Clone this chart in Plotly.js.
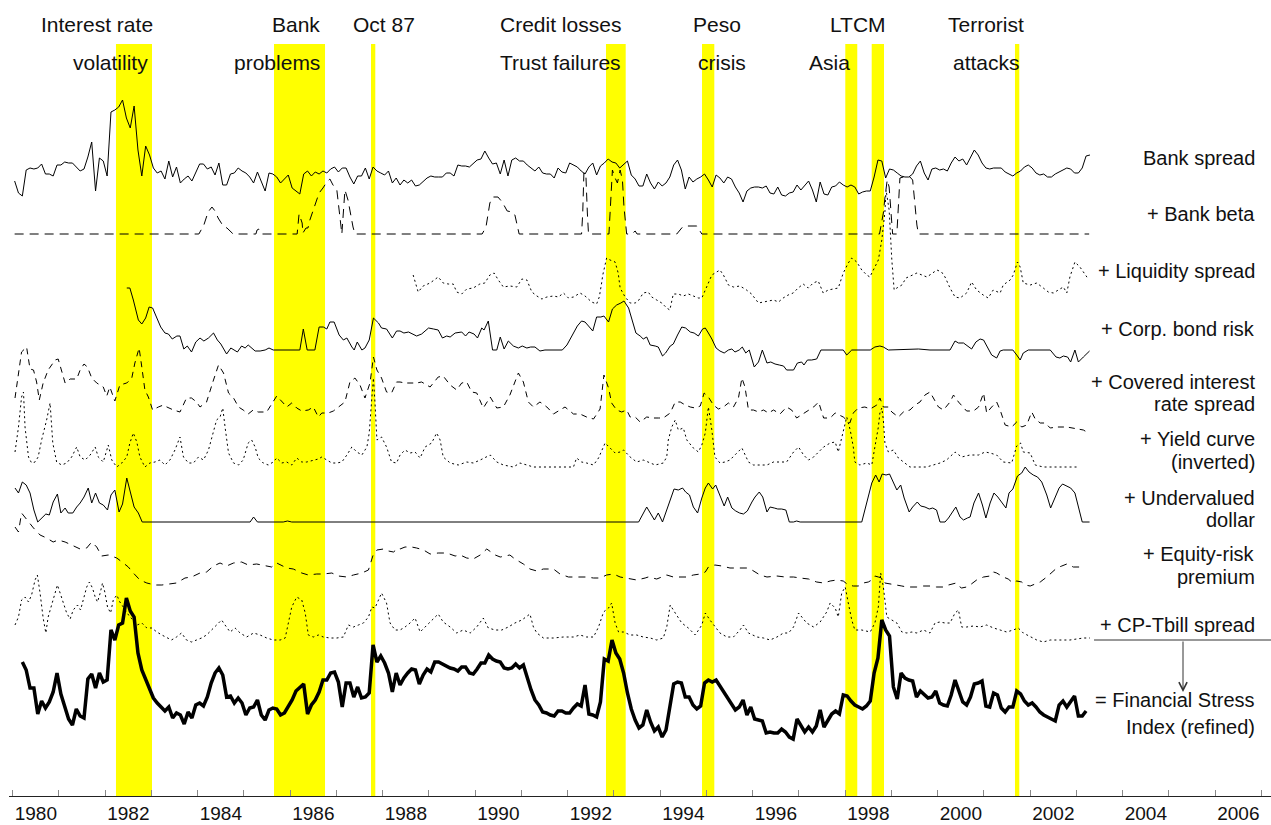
<!DOCTYPE html>
<html><head><meta charset="utf-8">
<script src="https://cdn.plot.ly/plotly-3.0.1.min.js"></script>
<style>html,body{margin:0;padding:0;background:#fff}#chart{width:1271px;height:825px}</style>
</head><body><div id="chart"></div>
<script>
// ---------- DATA (month index 0 = Jan 1980) ----------
const bankSpreadStart = 0;
const bankSpread = [19,7,4,30,32,31,32,36,26,26,24,35,35,38,37,37,33,29,31,43,58,9,42,39,24,88,90,93,100,82,72,94,50,24,54,45,32,27,29,21,39,23,33,17,21,24,19,27,36,36,31,33,25,37,15,15,26,27,32,29,27,23,17,28,18,9,27,26,23,17,21,25,12,9,6,26,29,24,28,26,29,27,31,33,28,32,32,23,16,24,24,32,21,33,29,27,25,29,17,22,
15,20,17,20,14,15,19,22,24,23,23,23,27,27,24,35,34,34,33,37,40,41,49,42,36,37,26,40,24,40,42,39,39,35,32,29,33,27,26,26,22,32,28,27,37,35,33,29,26,33,37,25,34,37,41,38,37,32,36,39,25,21,14,14,26,17,11,18,14,17,23,35,40,30,11,23,18,21,23,26,20,13,25,22,17,23,21,13,7,-2,9,12,13,13,12,14,7,6,13,5,4,7,8,15,10,15,19,10,-2,18,6,5,13,14,18,15,13,
15,13,6,8,9,9,23,40,39,22,31,30,27,24,23,23,26,34,39,27,20,31,32,30,31,29,37,43,39,41,35,42,50,45,37,32,31,32,32,32,28,26,24,27,29,33,35,32,27,25,26,23,23,26,28,30,32,31,27,27,32,44,45];

const fsiStart = 2;
const fsi = [83,75,57,57,31,44,37,43,53,72,51,38,26,20,36,29,27,66,71,57,72,63,65,115,105,120,122,147,134,128,92,75,66,58,47,42,38,34,38,27,32,30,21,33,27,40,42,39,48,62,72,77,70,48,49,42,47,42,30,37,38,45,30,25,35,37,36,30,32,39,45,54,58,61,31,40,45,53,65,65,72,73,63,38,62,62,48,58,47,48,52,100,83,89,82,72,53,72,
60,67,72,76,75,61,70,76,73,83,83,81,79,77,76,74,78,78,72,71,76,82,82,90,86,84,83,77,76,77,81,77,80,67,55,45,40,33,32,30,29,34,34,32,32,37,41,39,60,31,30,28,43,86,84,105,92,86,72,52,36,25,17,20,35,23,14,18,8,15,38,61,63,62,48,48,40,36,39,62,65,63,65,59,52,47,40,35,38,45,30,38,26,25,24,12,13,12,12,16,13,8,6,26,19,13,18,13,19,35,18,25,31,34,31,50,49,
44,40,38,36,39,44,72,87,125,115,109,58,46,72,67,65,64,48,54,50,47,48,54,42,40,39,50,65,53,43,40,48,61,62,64,39,38,52,50,37,33,38,38,54,51,44,40,42,38,33,30,28,26,24,40,44,38,43,49,29,29,34];

// [month, value] pairs
const bankBeta = [[0,0],[47.8,0],[49.1,9],[50.2,22],[51.2,27],[52.0,23],[52.8,16],[54.1,8],[55.1,6],[56.7,0],[62.6,0],[62.9,4],[63.4,5],[64.2,0],[73.3,0],[73.8,20],[74.6,11],[74.8,1],[75.6,6],[76.1,6],[76.6,14],[77.4,23],[78.2,31],[79.0,41],[80.0,46],[81.0,52],[81.8,55],[82.6,49],[83.6,44],[84.4,20],[84.9,0],[85.7,44],[86.5,34],[87.8,7],[88.3,0],[121.3,0],[122.3,7],[123.3,31],[124.1,37],[125.4,37],[126.5,32],[127.8,23],[129.1,22],[129.8,19],[130.9,0],[147.1,0],[147.4,21],[147.7,61],[148.2,61],[148.6,21],[148.9,0],[154.2,0],[154.7,34],[155.1,64],[155.8,56],[156.4,51],[157.1,64],[157.7,54],[158.1,27],[158.8,0],[160.1,0],[161.0,3],[161.5,0],[171.8,0],[173.3,7],[174.4,8],[177.0,8],[178.3,0],[224.4,0],[225.0,11],[225.4,21],[225.8,36],[226.1,47],[226.4,54],[226.9,47],[227.4,21],[227.8,0],[228.9,0],[229.3,34],[229.7,56],[230.6,57],[232.3,57],[233.0,54],[233.6,27],[234.1,9],[234.5,0],[278.8,0]];

const liquidity = [[103.4,23],[104.7,6],[106.0,12],[107.8,15],[109.9,21],[111.2,15],[112.5,14],[113.8,14],[114.7,6],[116.0,4],[117.3,9],[119.0,10],[120.7,14],[122.0,15],[123.3,23],[124.4,25],[125.5,18],[126.8,11],[128.5,12],[130.3,11],[131.6,19],[132.9,18],[134.2,6],[135.5,2],[136.8,-1],[138.1,1],[139.8,2],[141.1,1],[142.4,5],[143.7,0],[145.0,1],[146.7,5],[148.0,2],[149.7,-4],[151.0,-6],[151.7,1],[152.3,15],[152.6,23],[153.6,40],[154.5,38],[155.8,36],[156.6,25],[157.1,10],[158.4,1],[159.7,-5],[161.0,-5],[161.8,-3],[163.1,5],[164.4,6],[165.3,1],[166.6,-2],[167.9,-5],[169.2,-10],[170.0,-12],[170.9,4],[172.2,4],[173.5,2],[174.8,4],[176.1,2],[177.4,0],[178.3,0],[179.1,8],[180.0,15],[180.9,23],[183.0,28],[183.9,23],[185.2,13],[186.5,11],[188.2,12],[189.9,8],[191.2,4],[193.0,-5],[194.3,-4],[195.6,-3],[196.9,-2],[198.2,-4],[199.4,0],[200.7,3],[202.0,5],[203.3,10],[204.6,14],[205.9,10],[207.2,15],[208.5,17],[209.8,5],[211.1,8],[212.4,9],[213.7,10],[215.0,25],[216.3,35],[217.2,40],[218.5,36],[219.8,28],[221.1,23],[221.9,21],[222.8,28],[224.1,38],[225.0,58],[225.8,86],[226.1,108],[226.9,88],[227.6,38],[228.2,8],[228.9,10],[230.2,13],[231.3,20],[232.8,23],[234.1,25],[236.7,21],[238.4,26],[239.3,28],[240.5,26],[241.4,21],[242.7,10],[244.0,1],[245.3,0],[247.0,5],[248.3,16],[249.6,8],[251.3,3],[252.6,0],[253.9,8],[255.7,5],[256.5,13],[258.3,18],[259.1,23],[260.2,36],[260.9,31],[261.3,21],[261.7,15],[263.5,13],[265.2,15],[266.9,10],[268.2,6],[269.5,5],[270.8,8],[272.1,11],[273.0,5],[273.8,21],[275.1,36],[276.4,31],[278.2,21],[278.6,20]];

const corpBond = [[29.1,62],[29.9,62],[30.8,50],[31.4,40],[32.1,30],[33.0,26],[34.0,32],[34.9,43],[35.8,42],[36.9,32],[37.9,23],[39.0,17],[39.9,16],[40.9,11],[42.1,14],[42.9,14],[43.9,1],[44.8,4],[45.9,-2],[47.0,8],[48.1,12],[49.1,9],[50.3,12],[51.6,17],[52.6,10],[53.5,6],[55.0,-4],[56.1,2],[57.8,-2],[58.9,4],[59.8,2],[60.6,5],[61.5,2],[62.4,-1],[63.7,-1],[65.0,0],[66.0,2],[67.1,0],[74.0,0],[74.9,21],[75.9,0],[77.9,0],[79.0,23],[80.1,23],[81.0,21],[81.8,28],[82.9,28],[84.2,15],[85.3,10],[86.2,12],[87.5,3],[88.1,0],[88.9,8],[90.1,0],[90.9,2],[92.0,10],[93.1,32],[94.4,27],[95.2,22],[96.5,21],[98.0,12],[99.1,19],
[100.0,19],[101.0,17],[102.2,18],[104.3,14],[105.6,16],[107.4,22],[108.7,21],[109.9,20],[111.0,12],[112.1,14],[113.0,13],[114.3,17],[116.0,18],[117.0,14],[117.9,18],[119.2,16],[120.1,12],[121.2,22],[121.8,20],[122.9,29],[124.0,0],[125.1,0],[126.0,13],[127.0,1],[128.1,9],[129.4,4],[130.7,2],[131.7,4],[132.9,2],[133.9,3],[135.0,3],[136.3,-1],[137.6,0],[142.1,0],[143.3,5],[145.0,17],[146.0,24],[147.1,29],[148.0,28],[148.9,24],[150.0,19],[151.0,33],[152.1,33],[152.9,34],[154.1,28],[155.1,41],[156.2,45],[157.3,47],[158.1,49],[159.3,42],[160.3,30],[161.2,17],[162.3,14],[163.1,11],[164.0,13],[164.9,5],[166.2,4],[167.0,3],[168.1,-6],[168.9,-3],[170.1,4],[170.9,6],[172.0,15],[173.1,23],[174.1,22],[175.3,18],[176.3,17],[177.4,14],[178.5,21],[179.2,22],[180.0,17],[180.9,11],[182.0,2],[183.0,-1],[184.1,-3],[185.2,0],[186.1,1],[186.9,-2],[188.0,0],[188.8,3],[189.7,-3],[190.6,0],[191.9,-17],[193.0,-12],[194.0,0],[195.2,-13],[196.2,-12],[197.3,-14],[198.4,-15],[199.5,-16],[200.3,-20],[201.2,-20],[202.1,-20],[203.1,-13],[204.2,-12],[204.8,-15],[205.7,-10],[206.8,-10],[208.1,-9],[209.2,0],
[211.6,0],[215.0,0],[215.9,-5],[217.2,0],[222.0,0],[223.2,3],[224.5,4],[225.4,3],[226.7,0],[233.2,1],[234.5,1],[237.5,0],[242.7,0],[244.0,9],[244.9,7],[246.2,7],[247.2,4],[248.3,1],[249.4,8],[250.5,11],[251.4,10],[252.4,3],[253.5,-5],[254.8,-8],[255.7,-1],[256.5,0],[259.0,0],[260.0,-5],[260.9,-10],[261.7,-3],[263.0,0],[268.7,0],[270.2,-7],[271.2,-8],[272.1,-6],[273.2,-7],[274.0,-12],[275.1,0],[276.0,-12],[277.3,-7],[278.9,-1]];

const coveredSpread = [[0.1,32],[1.0,57],[1.8,78],[3.1,83],[4.0,61],[4.9,60],[5.7,48],[6.4,30],[7.4,47],[8.7,60],[10.5,70],[11.3,71],[12.2,60],[13.1,47],[14.4,51],[16.1,51],[17.0,60],[18.0,66],[18.9,63],[20.0,52],[21.3,47],[23.0,43],[23.9,34],[24.7,43],[26.0,29],[27.3,45],[29.1,47],[30.4,52],[31.2,67],[32.3,82],[33.0,63],[33.8,40],[34.7,33],[35.8,20],[37.3,23],[38.6,25],[39.5,23],[41.2,20],[42.9,18],[44.6,32],[45.9,32],[47.2,28],[48.1,23],[49.8,28],[51.6,50],[52.9,65],[54.2,57],[55.5,37],[56.8,32],[58.1,23],[59.3,20],[60.6,16],[61.9,20],[63.2,18],[65.4,18],[67.1,28],[68.0,34],[69.7,27],[70.6,23],[71.9,27],[73.2,22],[74.5,19],[76.2,20],[77.5,23],[78.8,13],[79.7,17],[81.4,17],[82.7,19],[84.0,23],[85.7,28],[87.0,48],[88.3,52],[89.6,45],[90.9,32],[92.2,47],[93.1,73],[94.0,60],[95.2,52],[96.5,38],[97.8,37],[99.1,48],
[100.0,48],[101.3,47],[104.3,47],[105.6,48],[107.8,43],[109.9,53],[111.2,54],[113.0,45],[114.7,40],[116.0,47],[117.3,48],[118.6,38],[119.9,37],[121.6,22],[123.4,33],[125.1,22],[126.8,23],[128.5,35],[130.7,57],[132.0,48],[133.3,28],[134.6,23],[136.3,28],[138.1,23],[139.8,16],[141.5,20],[142.8,23],[145.0,16],[146.7,16],[148.4,13],[150.2,11],[151.9,21],[152.9,55],[154.1,42],[154.9,27],[156.2,20],[157.5,18],[158.8,20],[159.7,13],[161.0,13],[162.3,8],[164.0,13],[165.7,12],[167.0,12],[168.3,12],[170.1,17],[171.4,28],[172.7,28],[174.0,25],[175.3,23],[176.6,22],[177.9,24],[178.9,37],[180.0,33],[181.3,25],[182.6,21],[183.9,23],[185.2,27],[186.5,23],[187.8,32],[188.7,52],[189.5,43],[190.4,20],[191.7,20],[193.0,18],[194.3,20],[195.6,17],[196.9,20],[198.6,16],[200.3,23],[201.6,20],[202.9,12],[204.2,15],[206.0,20],[207.3,23],[208.6,28],[209.9,12],
[211.6,12],[212.9,17],[215.0,13],[216.7,7],[217.6,17],[218.9,22],[220.6,23],[222.0,21],[223.7,25],[224.5,32],[225.4,23],[226.7,23],[227.6,18],[229.3,13],[230.6,18],[232.3,20],[233.6,25],[234.9,28],[236.2,35],[237.5,38],[239.7,23],[241.0,20],[242.7,28],[243.6,35],[244.9,28],[247.0,19],[248.8,19],[250.1,23],[251.4,37],[252.2,17],[253.5,23],[254.8,28],[255.7,20],[257.0,5],[258.7,3],[260.0,8],[261.3,3],[262.6,5],[263.9,18],[264.8,11],[266.1,7],[267.4,7],[268.7,2],[270.4,3],[273.0,3],[274.7,2],[277.3,0],[278.6,-3]];

const yieldCurve = [[0.1,14],[1.0,39],[1.8,69],[2.3,74],[2.7,39],[3.6,9],[4.4,3],[5.3,4],[6.1,9],[7.0,26],[8.3,46],[9.2,63],[9.9,23],[10.9,4],[12.2,1],[13.5,3],[14.8,9],[16.1,19],[17.0,9],[18.3,6],[19.6,11],[20.9,19],[21.7,9],[23.0,4],[24.3,21],[25.2,6],[26.5,-1],[27.8,3],[29.1,9],[29.9,23],[30.8,33],[31.7,24],[32.5,9],[33.8,-1],[35.1,3],[36.4,4],[37.7,6],[39.0,1],[40.3,6],[41.6,16],[42.9,29],[43.8,9],[45.1,3],[46.4,3],[47.7,9],[49.0,6],[50.3,16],[51.6,36],[52.4,46],[53.3,49],[54.0,58],[54.6,39],[55.5,13],[56.8,3],[58.1,1],[59.3,6],[60.6,23],[61.5,26],[62.4,19],[63.2,8],[64.5,3],[65.8,1],[67.1,4],[68.0,8],[69.3,3],[70.6,4],[71.9,1],[73.2,8],[74.5,4],[75.8,4],[77.5,6],[78.8,7],[79.7,9],[81.0,6],[82.3,3],[83.6,3],[84.9,4],[86.2,11],[87.5,19],[88.8,14],[90.1,11],[91.4,19],[92.0,33],[92.7,69],[93.1,88],[93.5,63],[94.0,26],[95.2,29],[96.5,19],[97.8,4],[99.1,3],
[100.0,11],[101.3,16],[102.6,13],[103.9,14],[105.2,8],[106.5,19],[108.2,23],[109.5,33],[110.4,26],[111.2,9],[113.0,3],[115.1,1],[117.3,4],[119.0,3],[120.8,6],[123.4,11],[125.1,4],[126.8,1],[129.4,-1],[131.1,3],[132.9,1],[134.6,-1],[138.1,-1],[141.5,-1],[145.0,-1],[145.8,8],[147.1,4],[148.4,3],[150.2,1],[151.5,8],[152.3,16],[153.2,23],[154.5,18],[155.8,13],[157.1,14],[158.0,16],[159.7,9],[161.4,4],[163.1,6],[164.9,3],[166.2,1],[168.3,3],[169.2,9],[169.6,26],[170.5,39],[171.4,46],[172.2,36],[173.5,38],[174.4,26],[176.1,18],[177.4,14],[178.3,21],[179.2,33],[180.0,59],[180.9,36],[181.7,9],[183.0,3],[184.3,4],[185.6,6],[187.4,13],[188.7,18],[190.4,4],[191.7,1],[193.4,1],[195.2,1],[196.9,4],[198.6,4],[200.3,4],[202.1,14],[203.4,19],[204.7,11],[206.0,6],[207.3,9],[208.6,14],[209.9,19],
[211.6,23],[212.9,24],[213.7,14],[215.0,33],[215.9,49],[216.8,36],[217.6,19],[218.0,4],[219.3,1],[221.1,3],[222.4,1],[223.2,19],[224.1,39],[224.5,53],[225.0,58],[225.4,46],[225.8,23],[226.7,14],[228.0,16],[229.3,8],[230.6,4],[232.3,-1],[236.6,-1],[240.1,3],[241.8,6],[244.0,14],[245.7,9],[247.9,11],[250.1,11],[251.8,14],[253.1,13],[254.8,11],[256.5,4],[258.7,3],[260.0,20],[261.0,23],[261.7,14],[263.5,13],[264.8,1],[266.9,-1],[272.1,-1],[276.0,-1]];

const dollar = [[0.1,34],[1.0,29],[2.0,40],[3.0,37],[4.0,29],[5.0,12],[6.0,0],[7.0,4],[8.1,8],[9.0,7],[10.0,20],[11.1,28],[12.0,9],[13.1,14],[13.9,9],[15.1,9],[16.1,15],[17.0,19],[18.0,25],[19.1,34],[20.0,19],[21.0,29],[22.0,19],[23.0,17],[24.1,12],[25.0,27],[26.0,32],[27.1,10],[28.0,18],[29.1,44],[30.1,30],[31.0,15],[32.1,9],[33.1,0],[61.1,0],[62.0,5],[63.0,0],[69.7,0],[70.8,1],[71.9,0],
[161.9,0],[164.0,15],[166.0,2],[167.0,9],[168.1,0],[169.2,12],[170.1,24],[171.1,33],[172.2,32],[173.3,34],[174.1,30],[175.1,27],[176.1,15],[177.2,9],[178.3,24],[179.2,34],[180.0,39],[181.1,33],[181.9,37],[183.0,27],[184.1,16],[185.0,25],[186.1,14],[187.1,11],[188.1,9],[189.1,8],[190.1,11],[191.3,20],[192.1,25],[193.2,30],[194.1,25],[195.2,10],[196.0,15],[197.1,14],[198.0,13],[199.0,13],[200.1,12],[201.0,0],[202.1,0],[202.9,1],[203.8,0],
[219.8,0],[221.1,19],[222.4,39],[223.4,47],[224.3,40],[225.1,48],[226.1,47],[227.0,48],[228.0,39],[228.9,32],[229.9,37],[230.8,24],[232.1,10],[233.0,15],[234.2,20],[235.1,16],[236.2,15],[237.3,13],[238.2,14],[239.2,12],[240.1,0],[241.4,0],[242.3,4],[244.2,15],[245.3,5],[246.2,2],[247.2,4],[247.9,5],[248.9,19],[250.1,29],[251.1,17],[252.0,4],[253.1,19],[254.1,29],[255.1,25],[256.1,20],[257.2,14],[258.0,29],[259.0,33],[260.2,46],[261.3,49],[262.2,55],[263.2,50],[264.3,47],[265.4,45],[266.5,40],[267.8,27],[268.8,14],[269.9,25],[271.0,34],[271.9,38],[273.2,36],[274.0,34],[275.1,29],[276.0,15],[277.0,0],[278.9,0]];

const equityRisk = [[0.1,63],[1.0,58],[1.8,77],[3.6,68],[4.9,62],[6.6,55],[8.3,52],[10.0,48],[11.3,50],[13.1,48],[14.8,45],[17.0,41],[18.7,42],[20.0,48],[21.3,43],[22.6,34],[24.3,35],[26.5,32],[28.2,27],[29.5,23],[30.8,17],[32.5,10],[34.3,7],[36.4,5],[38.2,5],[40.3,6],[42.0,7],[44.2,12],[45.9,13],[48.1,17],[49.8,18],[51.6,24],[53.3,27],[55.0,24],[56.8,27],[58.9,28],[60.6,25],[62.8,26],[64.5,25],[66.7,23],[68.0,27],[70.6,22],[72.3,21],[74.5,17],[76.2,15],[78.4,16],[80.1,16],[82.3,17],[84.0,14],[86.2,13],[87.9,15],[90.1,17],[91.8,20],[92.7,32],[93.1,36],[94.0,40],[95.7,41],[97.0,39],[98.3,38],[99.6,42],
[100.0,41],[101.3,43],[103.0,43],[104.3,42],[106.1,40],[107.8,36],[109.9,37],[112.1,37],[114.3,34],[115.6,35],[117.3,32],[119.0,31],[120.8,35],[122.5,41],[124.7,35],[126.0,33],[128.5,35],[129.8,31],[132.0,26],[133.7,21],[135.5,19],[137.2,21],[139.8,21],[141.5,16],[143.7,13],[145.8,13],[148.4,13],[150.2,12],[151.9,12],[153.6,15],[155.4,16],[157.1,13],[159.7,11],[161.4,10],[163.6,12],[164.4,13],[166.6,11],[168.3,14],[169.2,15],[170.9,13],[172.7,13],[174.4,13],[176.1,15],[177.9,16],[179.2,18],[180.0,23],[181.7,25],[183.5,24],[185.6,22],[187.4,22],[190.0,22],[191.3,20],[193.4,15],[195.2,13],[197.8,14],[199.9,13],[202.1,13],[203.8,12],[206.0,11],[208.1,8],[209.9,7],[211.6,9],
[213.3,10],[215.0,9],[216.3,5],[217.6,4],[218.9,4],[220.2,7],[221.5,8],[222.4,10],[223.2,14],[224.1,13],[225.0,12],[225.8,7],[227.6,6],[228.9,5],[230.2,4],[231.5,3],[232.8,3],[234.1,3],[235.8,4],[237.5,4],[239.2,3],[241.0,3],[242.3,5],[243.6,6],[244.3,7],[244.9,4],[245.7,2],[247.0,3],[247.9,5],[249.6,10],[251.4,13],[253.1,14],[254.0,18],[254.8,17],[256.5,13],[257.8,11],[259.0,7],[260.0,9],[261.3,8],[262.2,5],[263.5,4],[264.8,6],[266.1,8],[267.8,13],[269.1,18],[270.4,22],[271.7,24],[273.0,26],[274.7,23],[276.4,23]];

const cpTbill = [[0.1,17],[1.0,25],[1.8,42],[2.7,45],[3.6,40],[4.4,47],[5.3,62],[5.9,67],[6.6,49],[7.4,24],[8.1,9],[8.7,25],[9.6,37],[10.5,50],[11.1,57],[11.8,49],[12.6,39],[13.5,29],[14.4,23],[15.2,32],[16.3,37],[17.1,32],[17.8,42],[18.7,55],[19.4,60],[20.2,54],[20.9,45],[21.5,40],[22.2,49],[22.8,59],[23.4,50],[24.1,35],[24.9,29],[25.6,42],[26.5,47],[27.3,40],[28.2,35],[29.1,30],[29.9,25],[30.8,22],[31.8,17],[33.0,19],[34.3,14],[35.6,14],[36.9,10],[38.2,7],[39.5,4],[40.7,2],[42.0,5],[43.3,9],[44.6,2],[45.9,0],[47.2,2],[48.5,4],[49.8,7],[51.1,12],[52.4,17],[53.7,22],[54.6,17],[55.9,10],[57.2,14],[58.5,9],[60.2,5],[62.0,9],[63.7,7],[65.4,4],[67.1,2],[68.9,2],[70.2,4],[71.0,19],[71.9,35],[73.2,45],[74.5,42],[75.4,29],[76.2,7],[77.5,5],[78.8,7],[80.1,5],[81.8,4],[83.6,4],[85.3,5],[86.6,17],[87.9,15],[89.2,17],[90.5,19],[91.8,25],[92.7,35],[93.5,34],[94.4,42],[95.2,49],[96.5,39],[97.4,19],[98.7,12],
[100.0,12],[101.3,15],[102.6,19],[103.9,24],[105.2,10],[106.5,15],[108.2,22],[109.9,28],[111.2,20],[113.0,15],[114.7,9],[116.4,12],[118.2,9],[119.9,15],[121.6,24],[122.9,14],[124.7,12],[126.4,12],[128.1,15],[129.8,19],[131.6,22],[133.7,28],[134.6,15],[135.5,9],[137.2,4],[139.8,4],[142.4,5],[145.0,5],[146.7,7],[148.4,5],[150.2,5],[151.5,15],[152.8,30],[154.1,34],[154.9,39],[155.8,19],[156.7,10],[158.0,10],[159.7,7],[161.4,7],[163.1,5],[164.9,4],[166.6,2],[168.3,4],[169.2,15],[170.1,37],[171.4,29],[173.1,19],[174.8,14],[176.6,7],[178.3,17],[179.2,29],[180.4,22],[181.7,15],[183.0,9],[184.8,5],[186.5,5],[188.2,12],[189.1,17],[190.4,9],[192.6,5],[194.3,4],[196.0,2],[197.8,5],[199.5,9],[200.8,9],[202.1,15],[203.4,29],[204.2,25],[205.5,19],[207.3,15],[209.0,20],[210.7,30],
[211.6,39],[212.9,34],[213.7,25],[214.6,49],[215.5,55],[216.3,39],[217.2,22],[218.0,12],[219.8,12],[222.0,10],[223.2,19],[224.1,35],[224.7,69],[225.4,55],[226.3,25],[227.6,22],[228.9,19],[230.2,10],[231.5,9],[232.8,10],[234.1,9],[235.8,12],[237.5,9],[238.8,19],[240.1,20],[241.4,19],[242.7,19],[244.0,29],[244.9,32],[245.7,15],[247.0,15],[248.8,16],[250.5,15],[252.2,17],[254.0,14],[255.7,12],[257.4,10],[259.1,12],[260.4,14],[261.7,9],[263.5,5],[265.2,2],[266.9,0],[268.7,2],[271.2,2],[273.8,2],[277.3,4],[279.0,4]];

// crisis periods (decimal years)
const crisisStart = [1982.233, 1985.650, 1987.747, 1992.828, 1994.904, 1998.002, 1998.573, 2001.671];
const crisisEnd   = [1983.012, 1986.753, 1987.840, 1993.254, 1995.170, 1998.261, 1998.839, 2001.764];

// x-axis labels
const tickYears = [1980,1981,1982,1983,1984,1985,1986,1987,1988,1989,1990,1991,1992,1993,1994,1995,1996,1997,1998,1999,2000,2001,2002,2003,2004,2005,2006,2007];
const tickLabels = ['1980','1982','1984','1986','1988','1990','1992','1994','1996','1998','2000','2002','2004','2006'];

// series labels
const seriesLabels = ['Bank spread','+ Bank beta','+ Liquidity spread','+ Corp. bond risk','+ Covered interest','rate spread','+ Yield curve','(inverted)','+ Undervalued','dollar','+ Equity-risk','premium','+ CP-Tbill spread','= Financial Stress','Index (refined)'];
// event labels (two rows)
const eventTop = ['Interest rate','Bank','Oct 87','Credit losses','Peso','LTCM','Terrorist'];
const eventBottom = ['volatility','problems','','Trust failures','crisis','Asia','attacks'];

// ---------- LAYOUT CONSTANTS ----------
const X0 = 1979.920, X1 = 2007.2065;
const offsets = {bankSpread:596, bankBeta:562, liquidity:498, corpBond:446, covered:366, yieldCurve:330, dollar:274, equity:206, cpTbill:154, fsi:51};
const labelY = [638,582,525,467,414,392,357,334,298,276,242,219,171,96,69];
const eventTopX = [1981.824,1986.125,1988.028,1991.834,1995.228,1998.277,2001.045];
const eventBottomX = [1982.125,1985.714,1988.028,1991.834,1995.336,1997.671,2001.045];

const m2y = m => 1980 + (m + 0.5) / 12;
const FONT = 'Liberation Sans, Arial, Helvetica, sans-serif';

function regular(start, vals, off) {
  return { x: vals.map((v, i) => m2y(start + i)), y: vals.map(v => v + off) };
}
function pairs(p, off) {
  return { x: p.map(d => m2y(d[0])), y: p.map(d => d[1] + off) };
}
function tr(xy, width, dash, name) {
  return { type: 'scatter', mode: 'lines', x: xy.x, y: xy.y, name: name,
           line: { color: '#000', width: width, dash: dash }, hoverinfo: 'skip' };
}

const traces = [
  tr(regular(bankSpreadStart, bankSpread, offsets.bankSpread), 1, 'solid', 'Bank spread'),
  tr(pairs(bankBeta, offsets.bankBeta), 1, '9px,6px', 'Bank beta'),
  tr(pairs(liquidity, offsets.liquidity), 1, '2px,3px', 'Liquidity spread'),
  tr(pairs(corpBond, offsets.corpBond), 1, 'solid', 'Corp. bond risk'),
  tr(pairs(coveredSpread, offsets.covered), 1, '6px,5px', 'Covered interest rate spread'),
  tr(pairs(yieldCurve, offsets.yieldCurve), 1, '2px,3px', 'Yield curve'),
  tr(pairs(dollar, offsets.dollar), 1, 'solid', 'Undervalued dollar'),
  tr(pairs(equityRisk, offsets.equity), 1, '7px,6px', 'Equity-risk premium'),
  tr(pairs(cpTbill, offsets.cpTbill), 1, '2px,3px', 'CP-Tbill spread'),
  tr(regular(fsiStart, fsi, offsets.fsi), 3.5, 'solid', 'Financial Stress Index')
];

const shapes = crisisStart.map((s, i) => ({
  type: 'rect', xref: 'x', yref: 'paper', x0: s, x1: crisisEnd[i], y0: 0, y1: 1,
  fillcolor: '#ffff00', line: { width: 0 }, layer: 'below'
}));
// separator line above the index label
shapes.push({ type: 'line', xref: 'x', yref: 'y', x0: 2003.38, x1: X1, y0: 156, y1: 156,
  line: { color: '#333', width: 1 } });

const annotations = [];
seriesLabels.forEach((t, i) => annotations.push({
  text: t, x: 2006.905, y: labelY[i], xref: 'x', yref: 'y', xanchor: 'right', yanchor: 'middle',
  showarrow: false, font: { family: FONT, size: 20, color: '#111' }
}));
const topY = (796 - 25) / 752, botY = (796 - 63) / 752;
eventTop.forEach((t, i) => annotations.push({
  text: t, x: eventTopX[i], y: topY, xref: 'x', yref: 'paper', xanchor: 'center', yanchor: 'middle',
  showarrow: false, font: { family: FONT, size: 21, color: '#111' }
}));
eventBottom.forEach((t, i) => { if (t) annotations.push({
  text: t, x: eventBottomX[i], y: botY, xref: 'x', yref: 'paper', xanchor: 'center', yanchor: 'middle',
  showarrow: false, font: { family: FONT, size: 21, color: '#111' }
}); });
// arrow from separator down to the index label
annotations.push({ text: '', x: 2005.304, y: 104, xref: 'x', yref: 'y', ax: 0, ay: -52,
  showarrow: true, arrowhead: 5, arrowsize: 1.6, arrowwidth: 1, arrowcolor: '#333' });

const layout = {
  width: 1271, height: 825,
  margin: { l: 9, r: 0, t: 44, b: 29, pad: 0 },
  paper_bgcolor: '#fff', plot_bgcolor: '#fff',
  showlegend: false,
  xaxis: {
    range: [X0, X1], showgrid: false, zeroline: false,
    showline: true, linecolor: '#222', linewidth: 1,
    tickmode: 'array', tickvals: tickLabels.map(t => +t + 0.5), ticktext: tickLabels,
    ticks: '', ticklabelstandoff: 0,
    tickfont: { family: FONT, size: 19, color: '#111' },
    minor: { tickmode: 'array', tickvals: tickYears, ticks: 'inside', ticklen: 6, tickcolor: '#888', tickwidth: 1, showgrid: false },
    fixedrange: true
  },
  yaxis: { range: [0, 752], visible: false, fixedrange: true },
  shapes: shapes,
  annotations: annotations
};

Plotly.newPlot('chart', traces, layout, { displayModeBar: false, staticPlot: true });
</script></body></html>
